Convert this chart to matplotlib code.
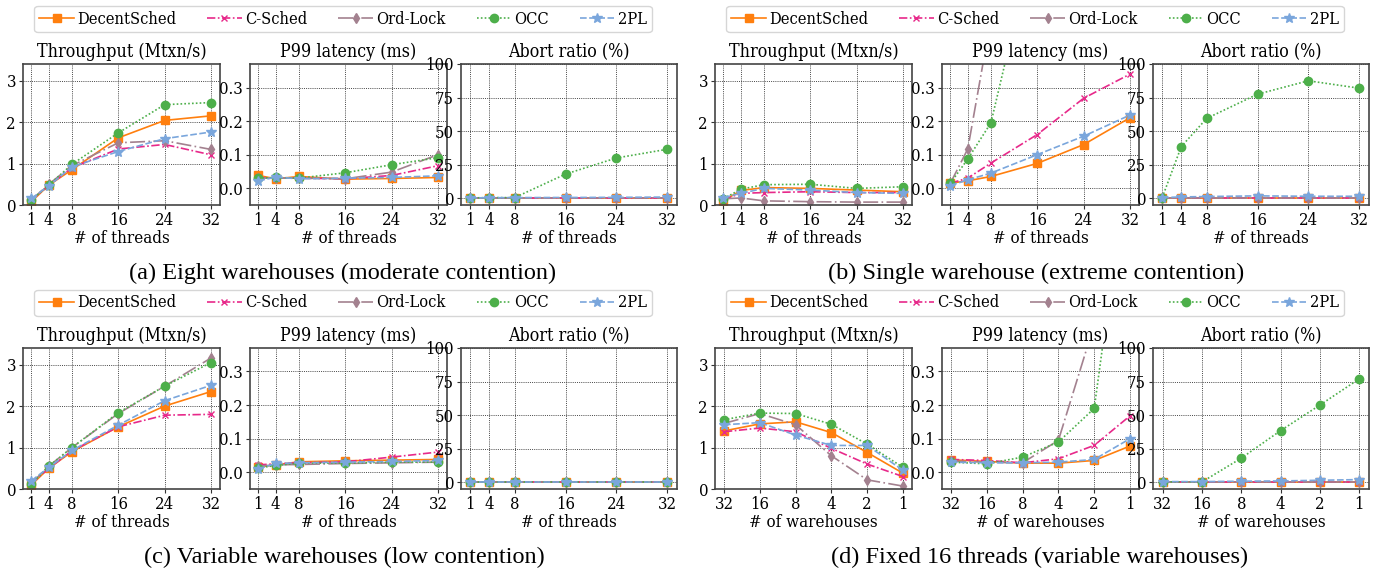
import matplotlib
matplotlib.use("Agg")
import matplotlib.pyplot as plt

W, H = 1374, 573

series = ["DecentSched", "C-Sched", "Ord-Lock", "OCC", "2PL"]
threads = [1, 4, 8, 16, 24, 32]
warehouses = ["32", "16", "8", "4", "2", "1"]
metric_titles = ["Throughput (Mtxn/s)", "P99 latency (ms)", "Abort ratio (%)"]
captions = ["(a) Eight warehouses (moderate contention)",
            "(b) Single warehouse (extreme contention)",
            "(c) Variable warehouses (low contention)",
            "(d) Fixed 16 threads (variable warehouses)"]

# (a) Eight warehouses
a_tput = {
    "DecentSched": [0.08, 0.48, 0.85, 1.62, 2.04, 2.15],
    "C-Sched": [0.12, 0.47, 0.90, 1.35, 1.46, 1.21],
    "Ord-Lock": [0.12, 0.50, 0.95, 1.50, 1.55, 1.34],
    "OCC": [0.12, 0.48, 0.98, 1.74, 2.42, 2.47],
    "2PL": [0.16, 0.46, 0.92, 1.29, 1.60, 1.76],
}
a_p99 = {
    "DecentSched": [0.038, 0.028, 0.035, 0.027, 0.029, 0.032],
    "C-Sched": [0.032, 0.030, 0.030, 0.028, 0.038, 0.067],
    "Ord-Lock": [0.030, 0.030, 0.030, 0.028, 0.048, 0.100],
    "OCC": [0.030, 0.032, 0.030, 0.046, 0.070, 0.091],
    "2PL": [0.022, 0.033, 0.028, 0.030, 0.032, 0.037],
}
a_abort = {
    "DecentSched": [0, 0, 0, 0, 0, 0],
    "C-Sched": [0, 0, 0, 0, 0, 0],
    "Ord-Lock": [0, 0, 0, 0, 0, 0],
    "OCC": [0.3, 0.5, 0.5, 18, 30, 36.5],
    "2PL": [0.3, 0.4, 0.5, 0.6, 0.7, 0.9],
}

# (b) Single warehouse
b_tput = {
    "DecentSched": [0.10, 0.35, 0.42, 0.40, 0.36, 0.32],
    "C-Sched": [0.13, 0.28, 0.30, 0.32, 0.30, 0.30],
    "Ord-Lock": [0.15, 0.17, 0.10, 0.08, 0.07, 0.07],
    "OCC": [0.15, 0.38, 0.49, 0.50, 0.40, 0.44],
    "2PL": [0.18, 0.28, 0.40, 0.36, 0.30, 0.28],
}
b_p99 = {
    "DecentSched": [0.015, 0.022, 0.035, 0.074, 0.130, 0.210],
    "C-Sched": [0.015, 0.030, 0.075, 0.160, 0.268, 0.340],
    "Ord-Lock": [0.015, 0.117, 0.505, 0.95, 1.40, 1.90],
    "OCC": [0.015, 0.087, 0.195, 0.78, 1.20, 1.50],
    "2PL": [0.008, 0.025, 0.045, 0.100, 0.155, 0.218],
}
b_abort = {
    "DecentSched": [0, 0, 0, 0, 0, 0],
    "C-Sched": [0, 0, 0, 0, 0, 0],
    "Ord-Lock": [0, 0, 0, 0, 0, 0],
    "OCC": [0.5, 38.5, 59.5, 77.5, 87.5, 82],
    "2PL": [0.5, 1.0, 1.3, 1.8, 1.5, 1.5],
}

# (c) Variable warehouses
c_tput = {
    "DecentSched": [0.10, 0.50, 0.90, 1.50, 2.00, 2.35],
    "C-Sched": [0.13, 0.50, 0.92, 1.50, 1.78, 1.80],
    "Ord-Lock": [0.14, 0.55, 1.00, 1.82, 2.48, 3.16],
    "OCC": [0.12, 0.55, 1.00, 1.84, 2.48, 3.05],
    "2PL": [0.20, 0.52, 0.93, 1.54, 2.13, 2.50],
}
c_p99 = {
    "DecentSched": [0.015, 0.022, 0.031, 0.034, 0.036, 0.038],
    "C-Sched": [0.022, 0.025, 0.028, 0.031, 0.045, 0.060],
    "Ord-Lock": [0.018, 0.022, 0.023, 0.026, 0.028, 0.030],
    "OCC": [0.013, 0.020, 0.027, 0.027, 0.030, 0.030],
    "2PL": [0.010, 0.026, 0.028, 0.030, 0.032, 0.035],
}
c_abort = {
    "DecentSched": [0, 0, 0, 0, 0, 0],
    "C-Sched": [0, 0, 0, 0, 0, 0],
    "Ord-Lock": [0, 0, 0, 0, 0, 0],
    "OCC": [0.3, 0.3, 0.3, 0.3, 0.3, 0.3],
    "2PL": [0.3, 0.3, 0.3, 0.3, 0.3, 0.3],
}

# (d) Fixed 16 threads
d_tput = {
    "DecentSched": [1.40, 1.57, 1.62, 1.36, 0.88, 0.38],
    "C-Sched": [1.38, 1.47, 1.38, 0.98, 0.60, 0.30],
    "Ord-Lock": [1.58, 1.82, 1.55, 0.80, 0.22, 0.07],
    "OCC": [1.67, 1.83, 1.82, 1.56, 1.08, 0.52],
    "2PL": [1.55, 1.60, 1.30, 1.05, 1.05, 0.45],
}
d_p99 = {
    "DecentSched": [0.037, 0.032, 0.027, 0.027, 0.035, 0.078],
    "C-Sched": [0.038, 0.035, 0.028, 0.040, 0.080, 0.168],
    "Ord-Lock": [0.033, 0.030, 0.028, 0.095, 0.44, 1.00],
    "OCC": [0.030, 0.025, 0.045, 0.090, 0.190, 0.98],
    "2PL": [0.030, 0.028, 0.028, 0.030, 0.038, 0.100],
}
d_abort = {
    "DecentSched": [0, 0, 0, 0, 0, 0],
    "C-Sched": [0, 0, 0, 0, 0, 0],
    "Ord-Lock": [0, 0, 0, 0, 0, 0],
    "OCC": [0.3, 0.3, 18, 38.5, 57.5, 77],
    "2PL": [0.5, 0.5, 0.8, 1.0, 1.5, 2.0],
}

styles = {
    "DecentSched": dict(color="#ff7f0e", ls="-", marker="s", ms=6),
    "C-Sched": dict(color="#e7298a", ls=(0, (5, 1.5, 1, 1.5)), marker="x", ms=5),
    "Ord-Lock": dict(color="#a3818f", ls=(0, (9, 2, 1, 2)), marker="d", ms=5),
    "OCC": dict(color="#4daf4a", ls=(0, (1, 1.3)), marker="o", ms=6),
    "2PL": dict(color="#7aa6dc", ls=(0, (4, 1.5)), marker="*", ms=7),
}

plt.rcParams["font.family"] = "DejaVu Serif"
plt.rcParams["font.stretch"] = "condensed"
plt.rcParams["mathtext.fontset"] = "dejavuserif"

fig = plt.figure(figsize=(W / 100, H / 100), dpi=100)


def rect(x0, x1, ytop, ybot):
    return [x0 / W, 1 - ybot / H, (x1 - x0) / W, (ybot - ytop) / H]


group_x = [(23, 220), (250, 447), (461, 677)]
groups = [
    (0, 0, [a_tput, a_p99, a_abort], "threads"),
    (692, 0, [b_tput, b_p99, b_abort], "threads"),
    (0, 284, [c_tput, c_p99, c_abort], "threads"),
    (692, 284, [d_tput, d_p99, d_abort], "warehouses"),
]

ylims = [(0, 3.4), (-0.05, 0.37), (-5, 100)]
yticks = [[0, 1, 2, 3], [0.0, 0.1, 0.2, 0.3], [0, 25, 50, 75, 100]]
yticklabels = [["0", "1", "2", "3"], ["0.0", "0.1", "0.2", "0.3"],
               ["0", "25", "50", "75", "100"]]

for gi, (dx, dy, datasets, kind) in enumerate(groups):
    handles = []
    for mi, data in enumerate(datasets):
        x0, x1 = group_x[mi]
        ax = fig.add_axes(rect(x0 + dx, x1 + dx, 64 + dy, 205 + dy))
        if kind == "threads":
            xs = threads
        else:
            xs = list(range(len(warehouses)))
        for s in series:
            st = styles[s]
            ln, = ax.plot(xs, data[s], color=st["color"], linestyle=st["ls"],
                          marker=st["marker"], markersize=st["ms"], lw=1.2,
                          label=s, clip_on=True)
            if mi == 0:
                handles.append(ln)
        if kind == "threads":
            ax.set_xticks(threads)
            ax.set_xticklabels([str(t) for t in threads])
            ax.set_xlim(-0.45, 33.55)
            ax.set_xlabel("# of threads", fontsize=12.2, labelpad=1)
        else:
            ax.set_xticks(xs)
            ax.set_xticklabels(warehouses)
            ax.set_xlim(-0.25, 5.25)
            ax.set_xlabel("# of warehouses", fontsize=12.2, labelpad=1)
        ax.set_ylim(*ylims[mi])
        ax.set_yticks(yticks[mi])
        ax.set_yticklabels(yticklabels[mi])
        ax.tick_params(labelsize=12, length=3, pad=2, color="#333333")
        ax.grid(True, color="#333333", linestyle=(0, (1, 1.2)), lw=0.7, alpha=0.9)
        ax.set_axisbelow(True)
        for sp in ax.spines.values():
            sp.set_color("#444444")
            sp.set_linewidth(1.2)
        ax.set_title(metric_titles[mi], fontsize=12.8, pad=5)
    leg_cx = (343 + dx) / W
    leg_cy = 1 - (19 + dy) / H
    fig.legend(handles, series, loc="center", bbox_to_anchor=(leg_cx, leg_cy),
               ncol=5, fontsize=11.8, frameon=True, fancybox=True,
               edgecolor="#cccccc", handlelength=2.1, handletextpad=0.2,
               columnspacing=1.9, borderpad=0.3)
    cap_cx = [343, 1036, 344, 1040][gi] / W
    cap_cy = 1 - [273, 273, 557, 557][gi] / H
    fig.text(cap_cx, cap_cy, captions[gi], ha="center", va="center",
             fontsize=17.5, family="Liberation Serif", stretch="normal")

fig.savefig("out.png", dpi=100)
